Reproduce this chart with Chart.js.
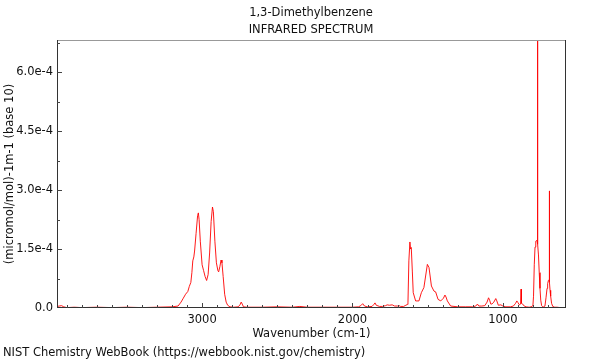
<!DOCTYPE html>
<html>
<head>
<meta charset="utf-8">
<script src="https://cdn.jsdelivr.net/npm/chart.js@4/dist/chart.umd.min.js"></script>
<style>
  html, body { margin: 0; padding: 0; background: #fff; }
  #wrap { width: 600px; height: 360px; }
</style>
</head>
<body>
<div id="wrap"><canvas id="graficoIR" width="600" height="360"></canvas></div>
<script>
const titulo = ['1,3-Dimethylbenzene', 'INFRARED SPECTRUM'];
const pie = 'NIST Chemistry WebBook (https://webbook.nist.gov/chemistry)';
const etiquetasX = [3000, 2000, 1000];
const etiquetasY = [0, 1.5e-4, 3.0e-4, 4.5e-4, 6.0e-4];

const numeroOnda = [
  3965, 3950, 3935, 3920, 3900, 3850, 3800, 3700, 3600, 3500, 3400, 3300, 3200, 3160,
  3140, 3125, 3110, 3095, 3085, 3075, 3068, 3062, 3055, 3050, 3040, 3030, 3025, 3020,
  3012, 3000, 2990, 2980, 2970, 2960, 2950, 2940, 2931, 2925, 2915, 2905, 2895, 2890,
  2882, 2874, 2868, 2860, 2850, 2840, 2830, 2815, 2790, 2760, 2748, 2740, 2733, 2725,
  2700, 2600, 2500, 2400, 2350, 2300, 2200, 2100, 2000, 1960, 1945, 1932, 1920, 1900,
  1870, 1858, 1850, 1842, 1820, 1800, 1780, 1769, 1755, 1736, 1720, 1700, 1690, 1680,
  1660, 1645, 1635, 1631, 1625, 1618, 1614, 1609, 1602, 1596, 1580, 1558, 1542, 1525,
  1502, 1491, 1475, 1458, 1447, 1431, 1413, 1395, 1385, 1378, 1369, 1347, 1300, 1250,
  1200, 1180, 1169, 1160, 1140, 1120, 1105, 1095, 1088, 1080, 1073, 1060, 1047, 1040,
  1030, 1013, 1000, 980, 950, 930, 915, 907, 900, 890, 882, 879, 876, 868, 858, 845,
  825, 812, 800, 796, 791, 786, 781, 776, 771, 769.6, 768.8, 767.5, 763, 758, 753,
  748, 742, 735, 728, 720, 713, 706, 702, 697, 692, 690.6, 689.6, 686, 682, 676,
  668, 655, 640, 620, 600, 580
];
const absorbancia = [
  0.04e-4, 0.05e-4, 0.06e-4, 0.03e-4, 0.01e-4, 0.02e-4, 0.01e-4, 0.02e-4, 0.01e-4, 0.02e-4, 0.01e-4, 0.02e-4, 0.03e-4, 0.05e-4,
  0.15e-4, 0.25e-4, 0.35e-4, 0.42e-4, 0.55e-4, 0.65e-4, 0.9e-4, 1.2e-4, 1.3e-4, 1.45e-4, 1.9e-4, 2.35e-4, 2.42e-4, 2.25e-4,
  1.7e-4, 1.1e-4, 0.95e-4, 0.8e-4, 0.7e-4, 0.85e-4, 1.4e-4, 2.2e-4, 2.57e-4, 2.45e-4, 1.7e-4, 1.15e-4, 0.95e-4, 0.92e-4,
  1.05e-4, 1.22e-4, 1.15e-4, 0.8e-4, 0.35e-4, 0.15e-4, 0.07e-4, 0.03e-4, 0.02e-4, 0.03e-4, 0.08e-4, 0.15e-4, 0.1e-4, 0.03e-4,
  0.02e-4, 0.02e-4, 0.03e-4, 0.02e-4, 0.04e-4, 0.02e-4, 0.02e-4, 0.02e-4, 0.02e-4, 0.03e-4, 0.06e-4, 0.11e-4, 0.05e-4, 0.03e-4,
  0.04e-4, 0.09e-4, 0.13e-4, 0.07e-4, 0.04e-4, 0.04e-4, 0.06e-4, 0.08e-4, 0.07e-4, 0.08e-4, 0.05e-4, 0.05e-4, 0.06e-4, 0.04e-4,
  0.04e-4, 0.07e-4, 0.09e-4, 0.13e-4, 1.2e-4, 1.68e-4, 1.5e-4, 1.54e-4, 0.94e-4, 0.39e-4, 0.18e-4, 0.18e-4, 0.39e-4, 0.52e-4,
  1.11e-4, 1.03e-4, 0.56e-4, 0.43e-4, 0.41e-4, 0.22e-4, 0.18e-4, 0.25e-4, 0.33e-4, 0.28e-4, 0.18e-4, 0.05e-4, 0.03e-4, 0.03e-4,
  0.03e-4, 0.05e-4, 0.1e-4, 0.05e-4, 0.05e-4, 0.06e-4, 0.15e-4, 0.26e-4, 0.2e-4, 0.1e-4, 0.1e-4, 0.15e-4, 0.24e-4, 0.18e-4,
  0.07e-4, 0.08e-4, 0.05e-4, 0.03e-4, 0.03e-4, 0.05e-4, 0.12e-4, 0.18e-4, 0.14e-4, 0.08e-4, 0.1e-4, 0.48e-4, 0.12e-4, 0.1e-4, 0.05e-4, 0.03e-4,
  0.02e-4, 0.03e-4, 0.06e-4, 0.3e-4, 1.1e-4, 1.55e-4, 1.7e-4, 1.72e-4, 1.68e-4, 7.6e-4, 7.6e-4, 1.62e-4, 1.35e-4, 0.9e-4, 0.5e-4,
  0.2e-4, 0.06e-4, 0.03e-4, 0.03e-4, 0.05e-4, 0.26e-4, 0.5e-4, 0.62e-4, 0.7e-4, 0.72e-4, 2.98e-4, 0.65e-4, 0.45e-4, 0.3e-4, 0.12e-4,
  0.04e-4, 0.02e-4, 0.02e-4, 0.01e-4, 0.01e-4, 0.01e-4
];

const puntos = numeroOnda.map((w, i) => ({ x: w, y: absorbancia[i] }));

const fuente = '"DejaVu Sans", sans-serif';

// Marco, marcas hacia adentro, título y pie
const decoracion = {
  id: 'decoracion',
  afterDraw(chart) {
    const { ctx, chartArea: a, scales } = chart;
    const sx = scales.x, sy = scales.y;
    ctx.save();
    ctx.lineWidth = 1;
    // marco
    ctx.strokeStyle = '#999';
    ctx.beginPath(); ctx.moveTo(a.left, a.top + 0.5); ctx.lineTo(a.right, a.top + 0.5); ctx.stroke();
    ctx.strokeStyle = '#333';
    ctx.beginPath();
    ctx.moveTo(a.right - 0.5, a.top); ctx.lineTo(a.right - 0.5, a.bottom);
    ctx.moveTo(a.left + 0.5, a.top); ctx.lineTo(a.left + 0.5, a.bottom);
    ctx.moveTo(a.left, a.bottom - 0.5); ctx.lineTo(a.right, a.bottom - 0.5);
    ctx.stroke();
    // marcas eje x (cada 100 cm-1)
    ctx.strokeStyle = '#444';
    ctx.beginPath();
    for (let w = 700; w <= 3900; w += 100) {
      const px = Math.round(sx.getPixelForValue(w)) + 0.5;
      const len = (w % 1000 === 0) ? 5 : 3;
      ctx.moveTo(px, a.bottom); ctx.lineTo(px, a.bottom - len);
    }
    // marcas eje y
    for (let k = 1; k <= 9; k++) {
      const v = k * 0.75e-4;
      const py = Math.round(sy.getPixelForValue(v)) + 0.5;
      const len = (k % 2 === 0) ? 5 : 3;
      ctx.moveTo(a.left, py); ctx.lineTo(a.left + len, py);
    }
    ctx.stroke();
    // textos
    ctx.fillStyle = '#111';
    ctx.font = '11.5px ' + fuente;
    ctx.textAlign = 'center';
    ctx.textBaseline = 'middle';
    ctx.fillText(titulo[0], 311, 13);
    ctx.fillText(titulo[1], 311, 30);
    ctx.textAlign = 'left';
    ctx.fillText(pie, 3, 353);
    ctx.restore();
  }
};

const ctx = document.getElementById('graficoIR').getContext('2d');
new Chart(ctx, {
  type: 'line',
  data: {
    datasets: [{
      data: puntos,
      borderColor: 'rgba(255, 0, 0, 0.9)',
      borderWidth: 1,
      pointRadius: 0,
      tension: 0,
      fill: false
    }]
  },
  options: {
    responsive: false,
    animation: false,
    layout: { padding: { top: 40, right: 34, left: 0, bottom: 18 } },
    plugins: { legend: { display: false }, tooltip: { enabled: false } },
    scales: {
      x: {
        type: 'linear',
        reverse: true,
        min: 580,
        max: 3965,
        afterBuildTicks: s => { s.ticks = etiquetasX.map(v => ({ value: v })); },
        afterFit: s => { s.height = 34; },
        grid: { display: false, drawTicks: false },
        border: { display: false },
        ticks: {
          padding: 5,
          color: '#111',
          font: { family: fuente, size: 11.5 },
          maxRotation: 0,
          callback: v => String(v)
        },
        title: {
          display: true,
          text: 'Wavenumber (cm-1)',
          color: '#111',
          font: { family: fuente, size: 11.5 },
          padding: { top: 0, bottom: 1 }
        }
      },
      y: {
        min: 0,
        max: 6.82e-4,
        afterBuildTicks: s => { s.ticks = etiquetasY.map(v => ({ value: v })); },
        afterFit: s => { s.width = 57; },
        grid: { display: false, drawTicks: false },
        border: { display: false },
        ticks: {
          padding: 4,
          color: '#111',
          font: { family: fuente, size: 11.5 },
          callback: v => v === 0 ? '0.0' : v.toExponential(1)
        },
        title: {
          display: true,
          text: '(micromol/mol)-1m-1 (base 10)',
          color: '#111',
          font: { family: fuente, size: 11.5 },
          padding: { top: 3, bottom: 0 }
        }
      }
    }
  },
  plugins: [decoracion]
});
</script>
</body>
</html>
